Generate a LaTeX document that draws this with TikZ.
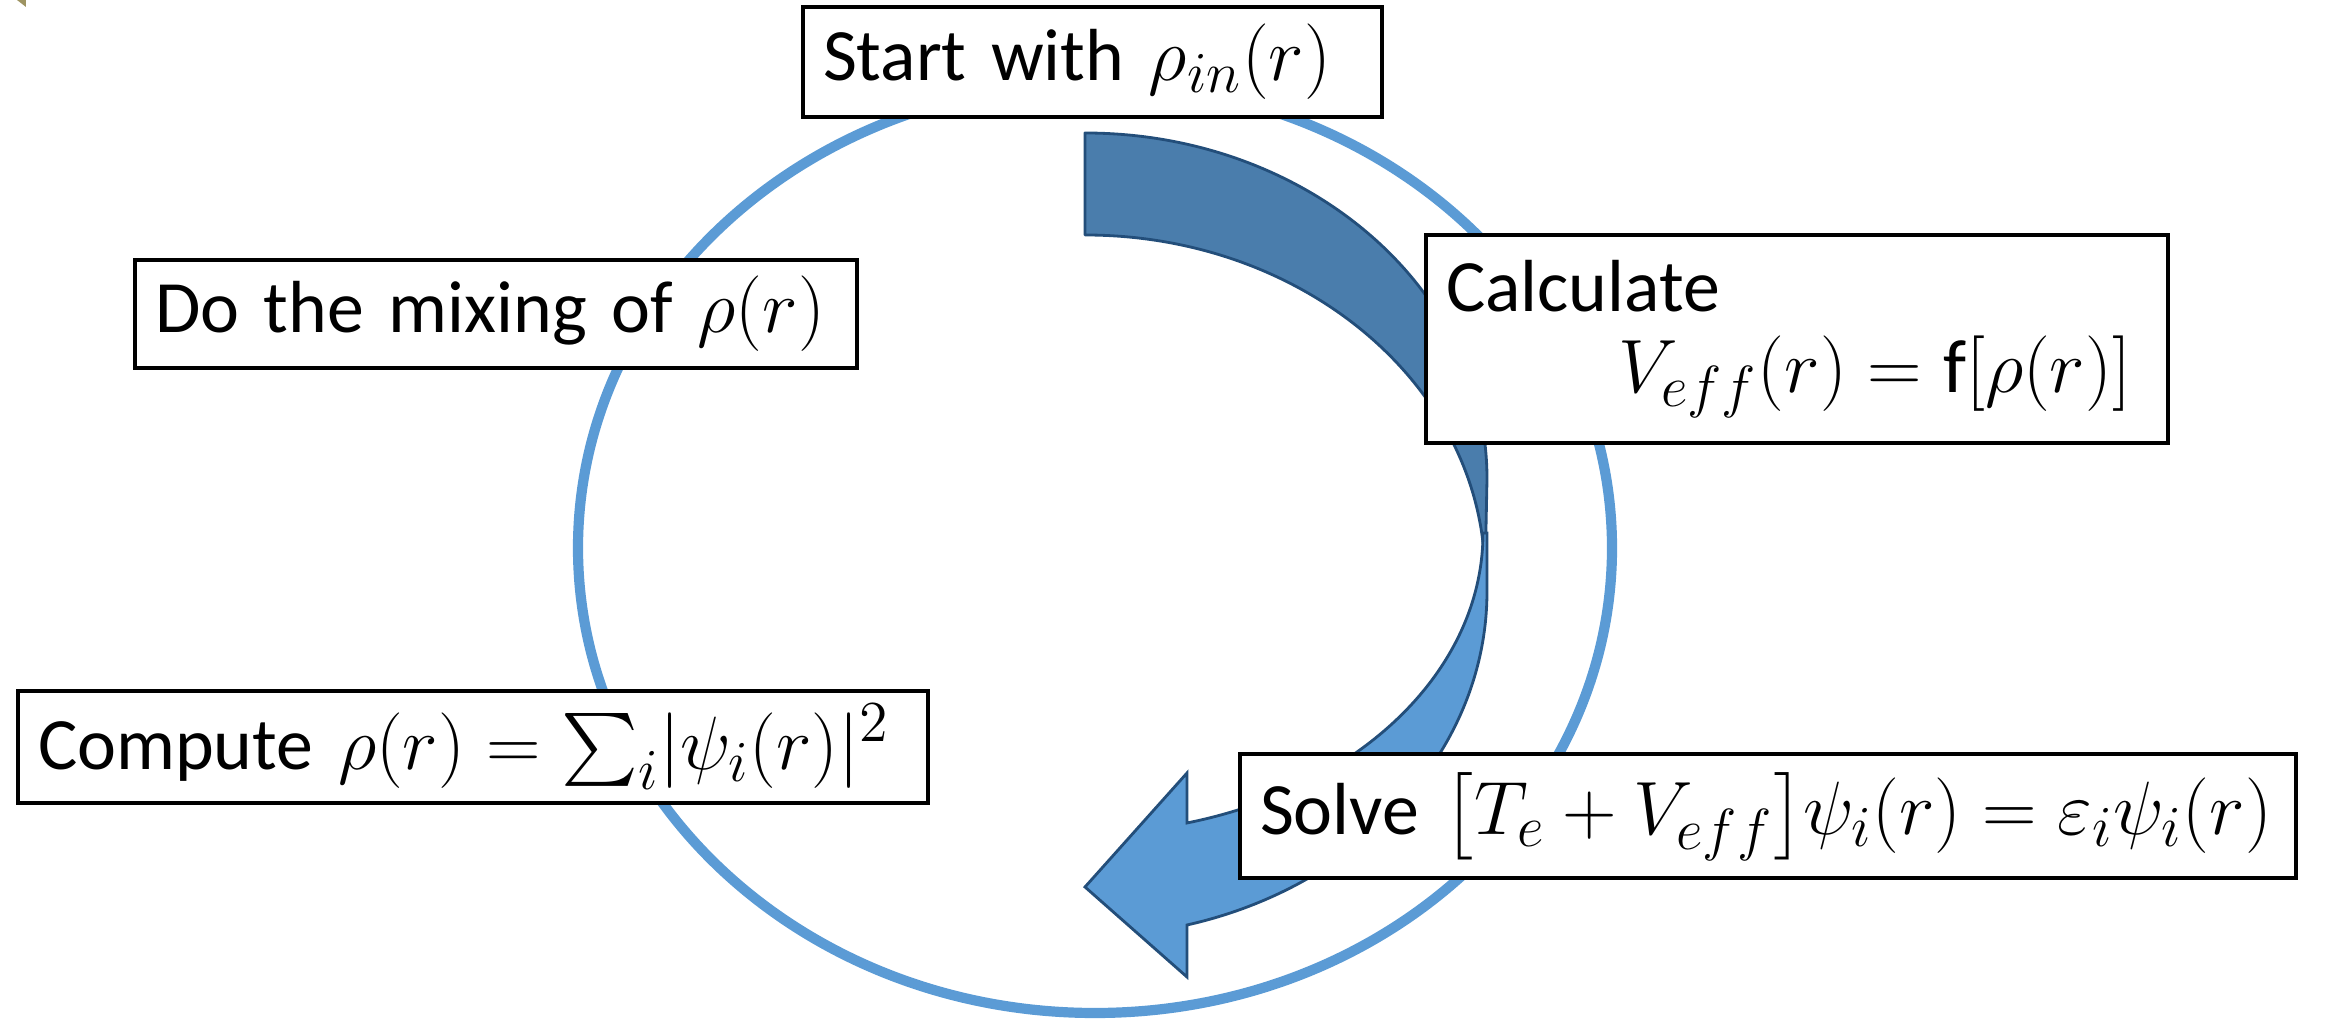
\documentclass[tikz,border=0pt]{standalone}
\usepackage{fix-cm}
\usepackage{amsmath}
\usepackage{fontspec}
\setmainfont{Carlito}
\usepackage{tikz}
\definecolor{cycleblue}{RGB}{91,155,213}
\definecolor{arrowdark}{RGB}{74,125,172}
\definecolor{arrowline}{RGB}{35,78,122}
\definecolor{cornermark}{RGB}{158,148,98}
\DeclareMathSizes{21.5}{21.5}{16.5}{12.5}
\newcommand{\mth}[1]{{\fontsize{21.5}{27}\selectfont$#1$}}

\begin{document}
\begin{tikzpicture}[every node/.style={font=\fontsize{21}{27}\selectfont},
  stepbox/.style={draw=black,line width=1.1pt,fill=white,inner xsep=0.2cm,inner ysep=0pt,align=left},
  backarrow/.style={fill=arrowdark,draw=arrowline,line width=0.8pt,line join=round},
  frontarrow/.style={fill=cycleblue,draw=arrowline,line width=0.8pt,line join=miter}]
\useasboundingbox (0,0) rectangle (23.46,10.19);
\fill[cornermark] (0.17,10.19) -- (0.26,10.19) -- (0.26,10.12) -- cycle;
% the cycle
\draw[cycleblue,line width=2.9pt] (10.95,4.71) ellipse[x radius=5.17,y radius=4.65];
% curved arrow: back face, then front face with head
\draw[backarrow] (10.85,8.86) arc[start angle=90,end angle=0,x radius=4.02,y radius=3.46]
  -- (14.85,4.42) arc[start angle=0,end angle=90,x radius=4.00,y radius=3.42] -- cycle;
\draw[frontarrow] (14.83,4.86) arc[start angle=0,end angle=-75.15,x radius=3.98,y radius=3.00]
  -- (11.87,2.46) -- (10.85,1.32) -- (11.87,0.42) -- (11.87,0.94)
  arc[start angle=-75.3,end angle=0,x radius=4.02,y radius=3.45] -- (14.87,4.86) -- cycle;
% the steps
\node[stepbox,text width=5.39cm,minimum height=1.10cm] (start) at (10.925,9.57) {\mbox{Start with \mth{\rho_{in}(r)}}};
\node[stepbox,text width=7.02cm,minimum height=2.08cm] (calc) at (17.97,6.80)
  {Calculate\\[-4pt]\makebox[6.85cm][r]{\mth{V_{eff}(r)=\mathrm{f}[\rho(r)]}}};
\node[stepbox,text width=10.16cm,minimum height=1.24cm] (solve) at (17.68,2.03)
  {\mbox{Solve \mth{\bigl[T_e+V_{eff}\bigr]\psi_i(r)=\varepsilon_i\psi_i(r)}}};
\node[stepbox,text width=8.70cm,minimum height=1.12cm] (comp) at (4.73,2.72)
  {\mbox{Compute \mth{\rho(r)={\sum_i}|\psi_i(r)|^2}}};
\node[stepbox,text width=6.82cm,minimum height=1.08cm] (mix) at (4.96,7.05) {\mbox{Do the mixing of \mth{\rho(r)}}};
\end{tikzpicture}
\end{document}
